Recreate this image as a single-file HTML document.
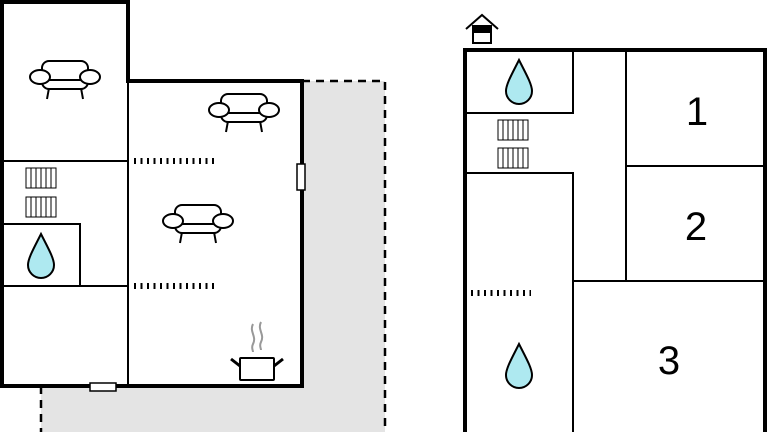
<!DOCTYPE html>
<html><head><style>body{margin:0;background:#fff}svg{display:block}</style></head><body>
<svg width="768" height="432" viewBox="0 0 768 432" xmlns="http://www.w3.org/2000/svg">
<defs>
<g id="sofa" fill="#fff" stroke="#000" stroke-width="2">
<line x1="-16" y1="10" x2="-18" y2="21"/><line x1="16" y1="10" x2="18" y2="21"/>
<rect x="-23" y="-17" width="46" height="28" rx="7"/>
<line x1="-23" y1="2" x2="23" y2="2"/>
<ellipse cx="-25" cy="-1" rx="10" ry="7"/><ellipse cx="25" cy="-1" rx="10" ry="7"/>
</g>
<g id="rad" fill="#fff" stroke="#000" stroke-width="1">
<rect x="0" y="0" width="30" height="20"/>
<path d="M5 0V20M10 0V20M15 0V20M20 0V20M25 0V20"/>
</g>
<path id="drop" d="M0 -22 C-6 -10 -13 2 -13 9 A13 13 0 0 0 13 9 C13 2 6 -10 0 -22Z" fill="#aee9f0" stroke="#000" stroke-width="2"/>
</defs>
<path d="M302 81H385V432H41V386H302Z" fill="#e4e4e4"/>
<path d="M302 81H385V432M41 386V432" fill="none" stroke="#000" stroke-width="2.5" stroke-dasharray="8,6"/>
<rect x="2" y="2" width="126" height="384" fill="#fff"/>
<rect x="128" y="81" width="174" height="305" fill="#fff"/>
<g stroke="#000" stroke-width="2" fill="none">
<path d="M2 161H128M128 82V386M2 224H80V286M2 286H128"/>
</g>
<g stroke="#000" stroke-width="6" stroke-dasharray="2,4.5">
<path d="M134 161H216M134 286H216"/>
</g>
<path d="M2 386V2H128V81H302V386Z" fill="none" stroke="#000" stroke-width="4"/>
<rect x="297" y="164" width="8" height="26" fill="#fff" stroke="#000" stroke-width="1.5"/>
<rect x="90" y="383" width="26" height="8" fill="#fff" stroke="#000" stroke-width="1.5"/>
<use href="#sofa" x="65" y="78"/>
<use href="#sofa" x="244" y="111"/>
<use href="#sofa" x="198" y="222"/>
<use href="#rad" x="26" y="168"/><use href="#rad" x="26" y="197"/>
<use href="#drop" x="41" y="256"/>
<path d="M253 324c-4 8 4 12 0 20c-2 4 0 6 0 8M261 322c-4 8 4 12 0 20c-2 4 0 6 0 8" stroke="#999" stroke-width="2" fill="none"/>
<rect x="240" y="358" width="34" height="22" rx="1" fill="#fff" stroke="#000" stroke-width="2"/>
<path d="M240 366L231 359M274 366L283 359" stroke="#000" stroke-width="3"/>
<rect x="464" y="49" width="302" height="390" fill="#fff"/>
<g stroke="#000" stroke-width="2" fill="none">
<path d="M464 113H573V49M464 173H573V432M626 49V281M626 166H766M573 281H766"/>
</g>
<path d="M471 293H531" stroke="#000" stroke-width="6" stroke-dasharray="2,4.5"/>
<path d="M465 440V50H765V440" fill="none" stroke="#000" stroke-width="4"/>
<use href="#rad" x="498" y="120"/><use href="#rad" x="498" y="148"/>
<use href="#drop" x="519" y="82"/><use href="#drop" x="519" y="366"/>
<g font-family="Liberation Sans, sans-serif" font-size="40" text-anchor="middle">
<text x="697" y="125">1</text><text x="696" y="240">2</text><text x="669" y="374">3</text>
</g>
<path d="M466 29L482 15L498 29" fill="none" stroke="#000" stroke-width="2"/>
<rect x="473" y="26" width="18" height="17" fill="#fff" stroke="#000" stroke-width="2"/>
<rect x="473" y="26" width="18" height="7" fill="#000"/>
</svg>
</body></html>
